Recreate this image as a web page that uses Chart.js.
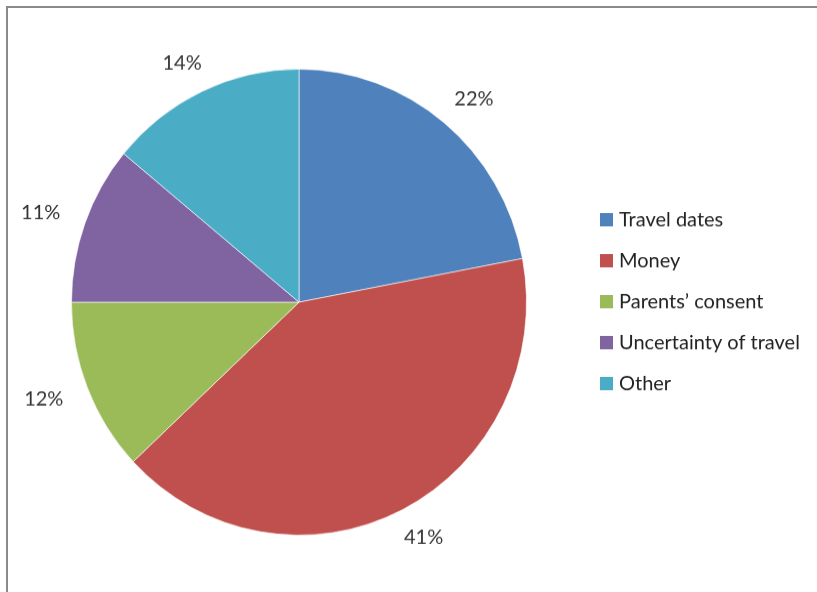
<!DOCTYPE html>
<html>
<head>
<meta charset="utf-8">
<script src="https://cdn.jsdelivr.net/npm/chart.js@4/dist/chart.umd.min.js"></script>
<style>
  html, body { margin: 0; padding: 0; background: #fff; overflow: hidden; width: 817px; height: 592px; }
  .frame {
    position: absolute; left: 6px; top: 6px; width: 811px; height: 586px;
    border-left: 2px solid #8a8a8a; border-top: 2px solid #8a8a8a;
    box-sizing: border-box;
  }
  /* the chart is a touch taller than wide */
  .wrap {
    position: absolute; left: 0; top: 0; width: 817px; height: 578px;
    transform: scaleY(1.0242); transform-origin: 0 0;
  }
</style>
</head>
<body>
<div class="frame"></div>
<div class="wrap"><canvas id="pie" width="817" height="578"></canvas></div>
<script>
const categories = ['Travel dates', 'Money', 'Parents\u2019 consent', 'Uncertainty of travel', 'Other'];
const shares = [22, 41, 12, 11, 14];
const sliceColors = ['#4f81bd', '#c0504d', '#9bbb59', '#8064a2', '#4bacc6'];

const FONT = 'Lato, "Open Sans", sans-serif';

// percentage labels sitting outside each slice
const outsideLabels = {
  id: 'outsideLabels',
  afterDatasetsDraw(chart) {
    const ctx = chart.ctx;
    const meta = chart.getDatasetMeta(0);
    ctx.save();
    ctx.font = '20px ' + FONT;
    ctx.fillStyle = '#333';
    ctx.textAlign = 'center';
    ctx.textBaseline = 'middle';
    meta.data.forEach((arc, i) => {
      const mid = (arc.startAngle + arc.endAngle) / 2;
      const rx = arc.outerRadius + 47, ry = arc.outerRadius + 30;
      ctx.fillText(shares[i] + '%', arc.x + Math.cos(mid) * rx, arc.y + Math.sin(mid) * ry);
    });
    ctx.restore();
  }
};

// legend drawn as a column to the right of the pie
const sideLegend = {
  id: 'sideLegend',
  afterDraw(chart) {
    const ctx = chart.ctx;
    const x0 = 600, y0 = 214.5, step = 40, box = 13;
    ctx.save();
    ctx.font = '20px ' + FONT;
    ctx.textBaseline = 'middle';
    chart.data.labels.forEach((label, i) => {
      const y = y0 + i * step;
      ctx.fillStyle = sliceColors[i];
      ctx.fillRect(x0, y - box / 2, box, box);
      ctx.fillStyle = '#222';
      ctx.fillText(label, x0 + 19, y);
    });
    ctx.restore();
  }
};

new Chart(document.getElementById('pie'), {
  type: 'pie',
  data: {
    labels: categories,
    datasets: [{
      data: shares,
      backgroundColor: sliceColors,
      borderColor: 'rgba(255,255,255,0.6)',
      borderWidth: 1
    }]
  },
  options: {
    responsive: false,
    animation: false,
    layout: { padding: { left: 71, right: 290, top: 67, bottom: 55 } },
    plugins: {
      legend: { display: false },
      tooltip: { enabled: false }
    }
  },
  plugins: [outsideLabels, sideLegend]
});
</script>
</body>
</html>
